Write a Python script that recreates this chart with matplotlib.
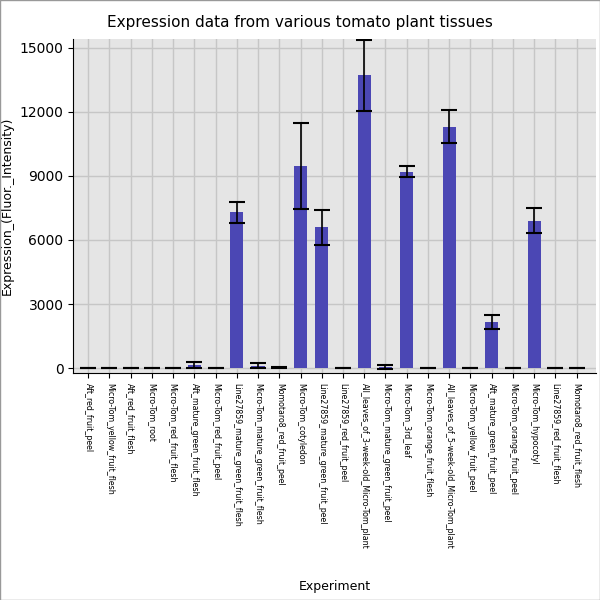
import numpy as np
import matplotlib.pyplot as plt

tissues = ['Aft_red_fruit_peel', 'Micro-Tom_yellow_fruit_flesh', 'Aft_red_fruit_flesh',
           'Micro-Tom_root', 'Micro-Tom_red_fruit_flesh', 'Aft_mature_green_fruit_flesh',
           'Micro-Tom_red_fruit_peel', 'Line27859_mature_green_fruit_flesh',
           'Micro-Tom_mature_green_fruit_flesh', 'Momotaro8_red_fruit_peel',
           'Micro-Tom_cotyledon', 'Line27859_mature_green_fruit_peel', 'Line27859_red_fruit_peel',
           'All_leaves_of_3-week-old_Micro-Tom_plant', 'Micro-Tom_mature_green_fruit_peel',
           'Micro-Tom_3rd_leaf', 'Micro-Tom_orange_fruit_flesh',
           'All_leaves_of_5-week-old_Micro-Tom_plant', 'Micro-Tom_yellow_fruit_peel',
           'Aft_mature_green_fruit_peel', 'Micro-Tom_orange_fruit_peel', 'Micro-Tom_hypocotyl',
           'Line27859_red_fruit_flesh', 'Momotaro8_red_fruit_flesh']
means = [5, 15, 5, 10, 8, 160, 3, 7290, 130, 40, 9450, 6590, 10,
         13700, 60, 9200, 8, 11300, 10, 2150, 5, 6900, 8, 8]
errs = [10, 15, 8, 12, 10, 130, 5, 510, 120, 40, 2020, 830, 10,
        1650, 100, 270, 10, 780, 10, 320, 6, 580, 8, 8]

fig, ax = plt.subplots(figsize=(6, 6), dpi=100)
fig.subplots_adjust(left=0.122, right=0.993, top=0.935, bottom=0.378)
ax.set_facecolor('#e5e5e5')
x = np.arange(len(tissues))
ax.bar(x, means, width=0.62, color='#4b47b4', zorder=3)
ax.errorbar(x, means, yerr=errs, fmt='none', ecolor='black', elinewidth=1.2,
            capsize=6, capthick=1.5, zorder=4)
ax.set_xticks(x)
ax.set_xticklabels(tissues, rotation=-90, fontsize=5.7)
ax.set_yticks([0, 3000, 6000, 9000, 12000, 15000])
ax.tick_params(axis='y', labelsize=10)
ax.set_xlim(-0.7, len(tissues) - 0.1)
ax.set_ylim(-230, 15400)
ax.grid(True, color='#c6c6c6', linewidth=1, zorder=0)
for s in ['top', 'right']:
    ax.spines[s].set_visible(False)
ax.set_xlabel('Experiment', fontsize=9)
ax.xaxis.set_label_coords(0.5, -0.62)
ax.set_ylabel('Expression_(Fluor._Intensity)', fontsize=9)
fig.suptitle('Expression data from various tomato plant tissues', fontsize=11, y=0.975)
fig.patches.append(plt.Rectangle((0, 0), 1, 1, transform=fig.transFigure,
                                 fill=False, edgecolor='#999999', linewidth=1))
fig.savefig('out.png')
